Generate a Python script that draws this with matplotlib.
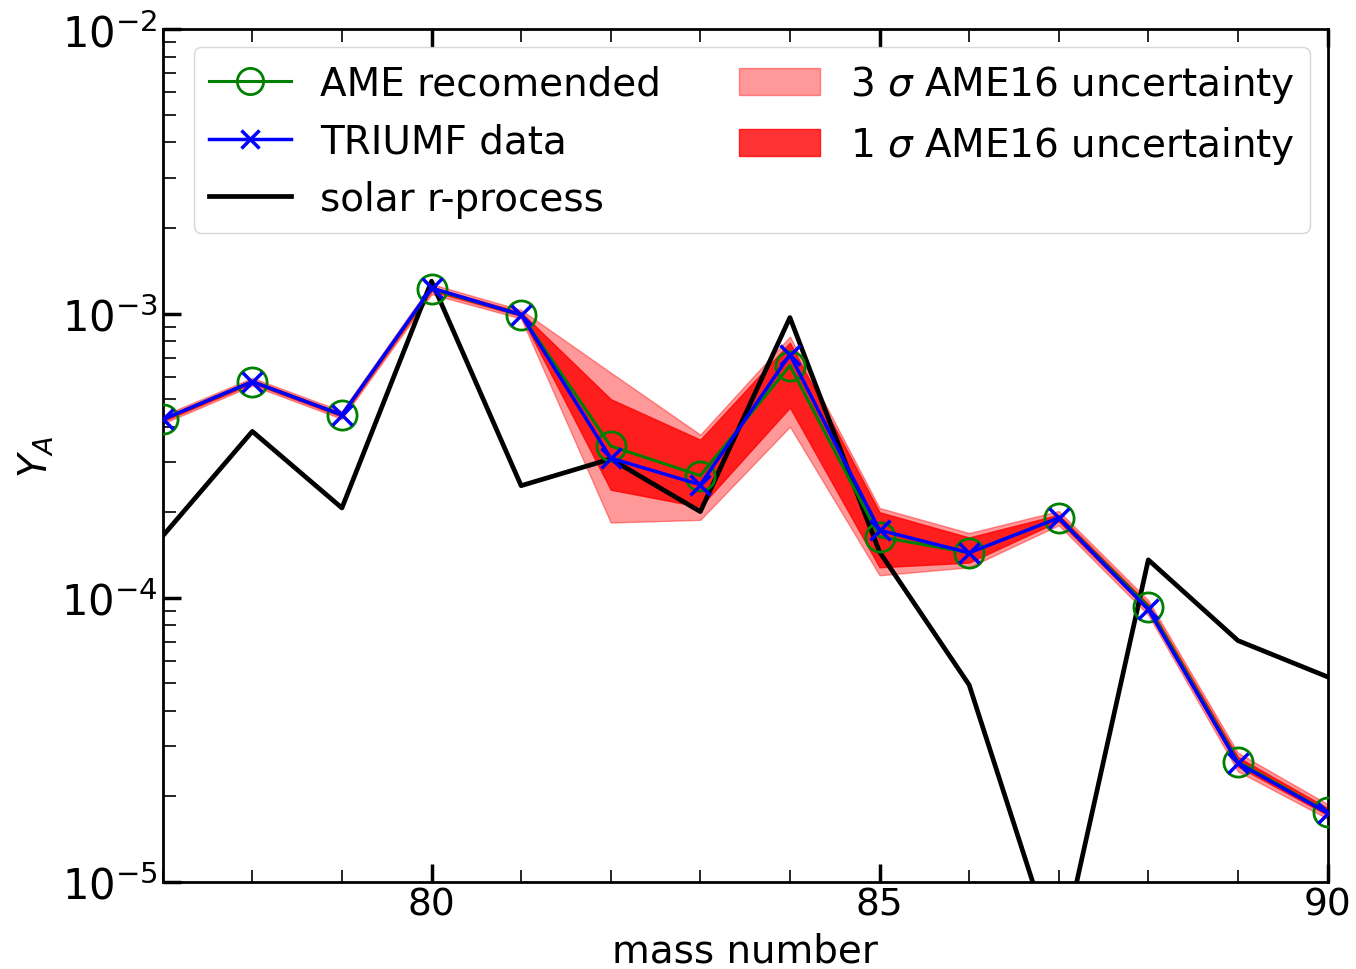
import matplotlib
matplotlib.use("Agg")
import matplotlib.pyplot as plt
import numpy as np

mass = [77, 78, 79, 80, 81, 82, 83, 84, 85, 86, 87, 88, 89, 90]
ame = [4.24e-4, 5.76e-4, 4.4e-4, 1.22e-3, 0.99e-3, 3.42e-4, 2.69e-4, 6.56e-4,
       1.64e-4, 1.44e-4, 1.91e-4, 9.3e-5, 2.65e-5, 1.76e-5]
triumf = [4.24e-4, 5.76e-4, 4.4e-4, 1.23e-3, 0.99e-3, 3.1e-4, 2.5e-4, 7.17e-4,
          1.73e-4, 1.44e-4, 1.91e-4, 9.1e-5, 2.62e-5, 1.75e-5]
solar = [1.65e-4, 3.85e-4, 2.07e-4, 1.30e-3, 2.48e-4, 3.08e-4, 2.01e-4, 9.68e-4,
         1.45e-4, 4.94e-5, 5.2e-6, 1.36e-4, 7.07e-5, 5.27e-5]
sig1_lo = [4.18e-4, 5.68e-4, 4.34e-4, 1.20e-3, 0.98e-3, 2.40e-4, 2.09e-4, 4.67e-4,
           1.28e-4, 1.33e-4, 1.86e-4, 9.0e-5, 2.55e-5, 1.72e-5]
sig1_hi = [4.30e-4, 5.84e-4, 4.46e-4, 1.24e-3, 1.01e-3, 5.0e-4, 3.6e-4, 7.9e-4,
           2.0e-4, 1.63e-4, 1.96e-4, 9.5e-5, 2.75e-5, 1.82e-5]
sig3_lo = [4.10e-4, 5.58e-4, 4.26e-4, 1.17e-3, 0.96e-3, 1.84e-4, 1.88e-4, 4.0e-4,
           1.2e-4, 1.28e-4, 1.80e-4, 8.7e-5, 2.45e-5, 1.67e-5]
sig3_hi = [4.38e-4, 5.94e-4, 4.54e-4, 1.27e-3, 1.03e-3, 6.2e-4, 3.75e-4, 8.3e-4,
           2.07e-4, 1.69e-4, 2.02e-4, 9.8e-5, 2.85e-5, 1.88e-5]

fig = plt.figure(figsize=(13.56, 9.70), dpi=100)
ax = fig.add_axes([0.120, 0.0897, 0.859, 0.879])

f3 = ax.fill_between(mass, sig3_lo, sig3_hi, color='red', alpha=0.4, zorder=1,
                     label=r'3 $\sigma$ AME16 uncertainty')
f1 = ax.fill_between(mass, sig1_lo, sig1_hi, color='red', alpha=0.8, zorder=1.5,
                     label=r'1 $\sigma$ AME16 uncertainty')
l3, = ax.plot(mass, solar, color='black', lw=3.4, zorder=2, label='solar r-process')
l1, = ax.plot(mass, ame, color='green', lw=2.2, marker='o', ms=21, mfc='none',
              mec='green', mew=2.0, zorder=3, label='AME recomended')
l2, = ax.plot(mass, triumf, color='blue', lw=2.5, marker='x', ms=15, mew=2.5,
              zorder=4, label='TRIUMF data')

ax.set_yscale('log')
ax.set_xlim(77, 90)
ax.set_ylim(1e-5, 1e-2)
ax.set_xticks([80, 85, 90])
ax.set_xticks(range(77, 91), minor=True)
ax.tick_params(which='both', direction='in', top=True, right=False)
ax.tick_params(axis='x', labelsize=27)
ax.tick_params(axis='y', labelsize=30)
ax.tick_params(which='major', length=13, width=2.5)
ax.tick_params(which='minor', length=9, width=1.2)
for s in ax.spines.values():
    s.set_linewidth(2.0)
ax.set_xlabel('mass number', fontsize=28, labelpad=6)
ax.set_ylabel(r'$Y_A$', fontsize=28)

leg = ax.legend(handles=[l1, l2, l3, f3, f1], ncol=2, fontsize=28,
                loc='upper left', bbox_to_anchor=(0.0266, 0.979), borderaxespad=0,
                markerscale=0.9, columnspacing=2.0, handletextpad=0.75,
                handlelength=2.1)

fig.savefig('out.png', dpi=100)
